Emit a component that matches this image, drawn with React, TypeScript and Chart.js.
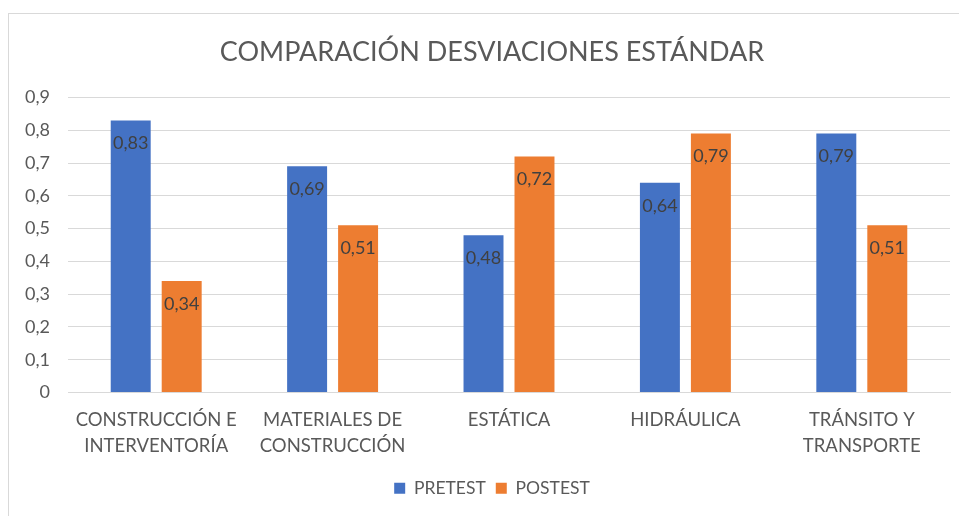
import React, { useEffect, useRef } from "react";
import { Chart, registerables } from "chart.js";

Chart.register(...registerables);

const chartTitle = "COMPARACIÓN DESVIACIONES ESTÁNDAR";
const categories: string[][] = [
  ["CONSTRUCCIÓN E", "INTERVENTORÍA"],
  ["MATERIALES DE", "CONSTRUCCIÓN"],
  ["ESTÁTICA"],
  ["HIDRÁULICA"],
  ["TRÁNSITO Y", "TRANSPORTE"],
];
const seriesNames = ["PRETEST", "POSTEST"];
const pretest = [0.83, 0.69, 0.48, 0.64, 0.79];
const postest = [0.34, 0.51, 0.72, 0.79, 0.51];
const seriesColors = ["#4472C4", "#ED7D31"];
const yTickMin = 0;
const yTickMax = 0.9;
const yTickStep = 0.1;

const FONT = "Lato, 'Noto Sans', sans-serif";
const TEXT = "#595959";

const fmtComma = (v: number, d: number) => (v === 0 ? "0" : v.toFixed(d).replace(".", ","));

const dataLabels = {
  id: "dataLabels",
  afterDatasetsDraw(chart: any) {
    const ctx = chart.ctx;
    ctx.save();
    ctx.font = `18px ${FONT}`;
    ctx.fillStyle = "#404040";
    ctx.textAlign = "center";
    ctx.textBaseline = "middle";
    chart.data.datasets.forEach((ds: any, i: number) => {
      const meta = chart.getDatasetMeta(i);
      meta.data.forEach((el: any, j: number) => {
        ctx.fillText(fmtComma(ds.data[j], 2), el.x, el.y + 23);
      });
    });
    ctx.restore();
  },
};

export default function App() {
  const ref = useRef<HTMLCanvasElement>(null);
  useEffect(() => {
    if (!ref.current) return;
    const chart = new Chart(ref.current, {
      type: "bar",
      data: {
        labels: categories,
        datasets: [
          { label: seriesNames[0], data: pretest, backgroundColor: seriesColors[0] },
          { label: seriesNames[1], data: postest, backgroundColor: seriesColors[1] },
        ],
      },
      options: {
        animation: false,
        responsive: false,
        devicePixelRatio: 1,
        datasets: { bar: { categoryPercentage: 0.578, barPercentage: 0.784 } },
        layout: { padding: { left: 0, right: 0, top: 0, bottom: 7 } },
        plugins: {
          title: {
            display: true,
            text: chartTitle,
            color: TEXT,
            font: { family: FONT, size: 27, weight: "normal" },
            padding: { top: 21.6, bottom: 29.5 },
          },
          legend: {
            position: "bottom",
            labels: {
              boxWidth: 11,
              boxHeight: 11,
              color: TEXT,
              font: { family: FONT, size: 17.5 },
              padding: 10,
            },
          },
          tooltip: { enabled: false },
        },
        scales: {
          x: {
            grid: { display: false },
            border: { display: true, color: "#d9d9d9" },
            ticks: {
              color: TEXT,
              font: { family: FONT, size: 18.5, lineHeight: "26px" },
              padding: 7,
              maxRotation: 0,
              autoSkip: false,
            },
            afterFit: (s: any) => {
              s.height = 77;
            },
          },
          y: {
            min: yTickMin,
            max: yTickMax,
            grid: { color: "#d9d9d9", drawTicks: false },
            border: { display: false },
            ticks: {
              stepSize: yTickStep,
              color: TEXT,
              font: { family: FONT, size: 18 },
              padding: 18,
              callback: (v: any) => fmtComma(Number(v), 1),
            },
            afterFit: (s: any) => {
              s.width = 59;
            },
          },
          yRightSpace: {
            type: "linear",
            position: "right",
            display: true,
            grid: { display: false },
            border: { display: false },
            ticks: { display: false },
            afterFit: (s: any) => {
              s.width = 25;
            },
          },
        },
      },
      plugins: [dataLabels],
    } as any);
    return () => chart.destroy();
  }, []);

  return (
    <div style={{ position: "fixed", left: 0, top: 0, width: 959, height: 516, overflow: "hidden", background: "#fff" }}>
      <div
        style={{
          position: "absolute",
          left: 8,
          top: 13,
          width: 966,
          height: 520,
          border: "1px solid #d9d9d9",
          background: "#fff",
        }}
      >
        <canvas ref={ref} width={966} height={500} style={{ display: "block", width: 966, height: 500 }} />
      </div>
    </div>
  );
}
